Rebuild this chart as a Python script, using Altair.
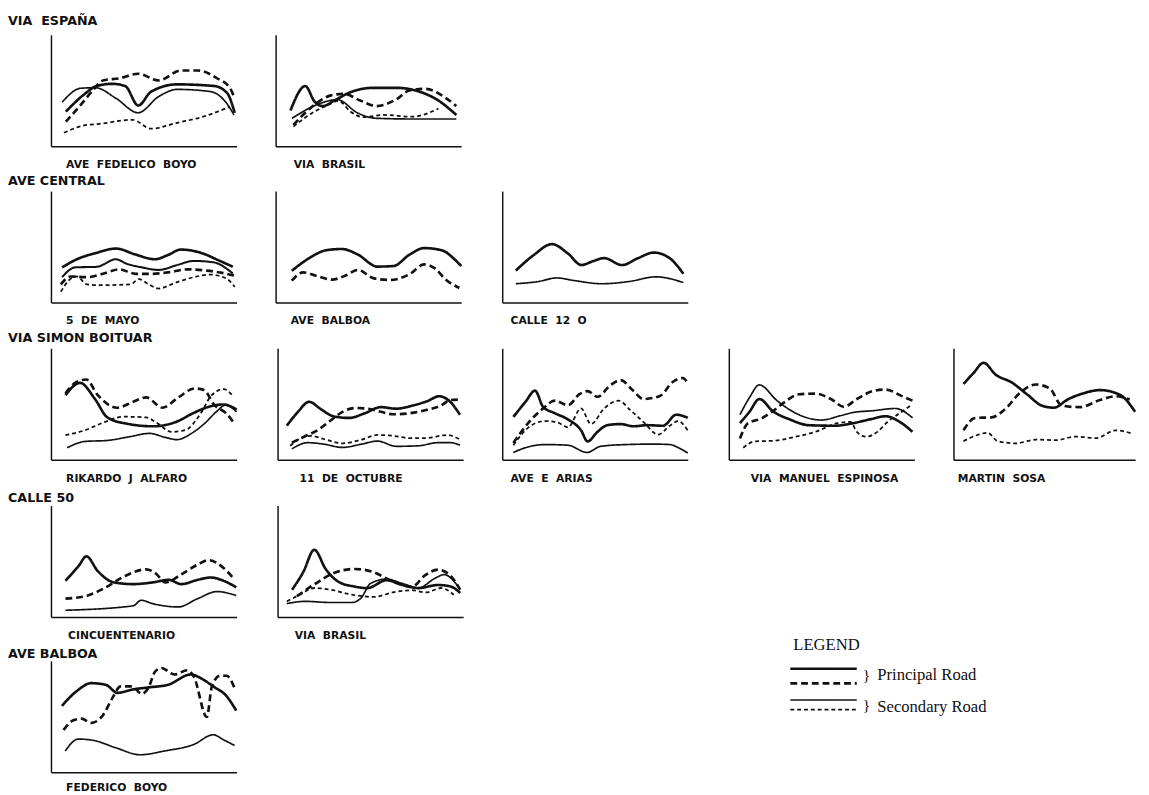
import altair as alt
import pandas as pd

# ---------------- data (x: % of panel width, y: % of panel height) ----------------
# Row 1 : VIA ESPAÑA
VE_BOYO_P1 = [(8,31),(17.5,46),(24.6,54),(33,56),(40,54),(47,36.5),(54,49),(68,55.5),(88,54),(95,47.5),(99,30)]
VE_BOYO_P2 = [(8,22),(16,37),(23,51),(28,59),(37,61),(47,65),(58,59),(70,68),(79,68),(89.5,61),(96.5,52),(99,43)]
VE_BOYO_S1 = [(6,39.5),(16,52),(24,52.5),(35,43),(47,30),(58,44.5),(68,51),(86,49),(96.5,34),(98.6,28)]
VE_BOYO_S2 = [(7,12),(17.5,18.5),(26,20),(44,23.7),(54,15.7),(68,21),(82.5,26.7),(96.5,35.6)]

VE_BRASIL_P1 = [(8,32),(16,54),(21,40),(25.4,36),(31.6,41),(40.4,48.5),(52.6,52.4),(65,52.4),(75.4,50),(87.7,41),(97.4,28)]
VE_BRASIL_P2 = [(9.6,19),(19.3,35),(29.8,45.6),(36.8,47),(45.6,41),(54.4,36),(65,42),(72,50),(80.7,51.5),(91,44),(97.4,36)]
VE_BRASIL_S1 = [(8.8,25),(22.8,37.6),(33.3,41.8),(44,30),(54.4,25),(75,24.4),(97.4,24.4)]
VE_BRASIL_S2 = [(9.6,17.6),(19.3,29.4),(28,36.8),(34,40.6),(40.4,31),(47.4,26),(58,28),(73.7,26.5),(87.7,33.8)]

# Row 2 : AVE CENTRAL
AC_MAYO_P1 = [(6,31.5),(14,38.8),(24.6,44.6),(35,48.4),(45.6,43),(56,38.8),(63,42.6),(70,47.5),(80.7,44.6),(91,37.3),(98,32)]
AC_MAYO_M1 = [(6,22.7),(13,31.5),(24.6,32),(35,38.8),(40.4,35),(49,31.5),(58,29.2),(68.4,33.8),(77,37.3),(87.7,36),(98,26)]
AC_MAYO_P2 = [(5.3,16.3),(10.5,23.3),(19.3,22.7),(28,25.7),(36.8,29.7),(45.6,25.7),(54.4,25.7),(63,27),(73.7,29.7),(84,28.6),(94.7,25.7),(99,24)]
AC_MAYO_S2 = [(5.3,9.6),(9.6,19.8),(14,23.3),(19.3,16.3),(28,15.5),(43,16.3),(47.4,21),(52.6,16.3),(58,12.5),(66.7,17.5),(77,22.7),(86,25),(94.7,21.3),(99,14)]

AC_BALBOA_P1 = [(8.7,28.4),(18.3,40),(27,46.8),(35.7,48),(44.3,43),(54.8,32.2),(63.5,32.7),(72.2,43),(80,48.8),(89.6,46.8),(96.5,38.6),(100,32.7)]
AC_BALBOA_P2 = [(8.7,19.6),(14.8,27),(21.7,24),(30.4,20.5),(37.4,24),(44.3,29.2),(53,21.6),(61.7,20.2),(72.2,25.4),(80,34.2),(86,30.4),(91.3,21),(99,13)]

AC_12O_P1 = [(7.3,28.6),(17,42.6),(26.8,52.4),(35.4,44),(42.7,33.6),(48.8,37),(54.9,39.8),(64.6,33.6),(73.2,39.8),(81.7,44.8),(90.2,39.8),(97.6,25.8)]
AC_12O_S1 = [(7.3,16.8),(19.5,18.8),(29.3,22),(39,19.6),(53.7,16.8),(68.3,18.8),(82.9,23),(97.6,17.9)]

# Row 3 : VIA SIMON BOITUAR
SB_ALFARO_P1 = [(7.8,58),(15.7,69),(23.5,55),(30.4,38),(41,32.3),(55,30),(67,33.7),(77.4,42.4),(86,48),(93,49.6),(100,45)]
SB_ALFARO_P2 = [(7.8,59.7),(13,69),(19,72),(25.2,58),(35.7,46.7),(44.3,52),(51.3,56),(60,46.7),(68.7,56),(77.4,64),(82.6,62.5),(87.8,49.6),(94.8,41),(98.3,33.7)]
SB_ALFARO_S1 = [(8.7,10.7),(18.3,16.4),(30.4,17.3),(42.6,20.7),(53,23.6),(61.7,20),(67.8,18),(75.7,23.6),(82.6,32.3),(89.6,43.8),(94,49),(97.4,46.7),(100,43)]
SB_ALFARO_S2 = [(7.8,22),(18.3,26.5),(28.7,33.7),(39,38.6),(51.3,38),(56.5,33.7),(65.2,25),(72.2,26.5),(81,42.4),(86,56.8),(93,63.4),(98.3,56.8)]

SB_OCT_P1 = [(5,30.6),(11,43),(17,52),(23,45.8),(30,39),(38.5,37.5),(47,41.7),(55.6,47.2),(64,45.8),(72.6,48.6),(81,52.8),(87,57),(93,52),(98.3,40.3)]
SB_OCT_P2 = [(7.7,15.3),(14.5,20.8),(21.4,26.4),(28.2,34.7),(35,43),(42,46.4),(48.7,45.8),(55.6,43),(62.4,40.8),(71,41.7),(79.5,44.4),(88,48.6),(93.2,53.6),(99,54)]
SB_OCT_S1 = [(7.7,9.7),(16.2,15.3),(24.8,14),(35,11),(45.3,14),(53.8,16.7),(64,12),(76,12.5),(86.3,15.3),(93.2,15.3),(98.3,13)]
SB_OCT_S2 = [(6.8,12.5),(12.8,19.4),(18,21.4),(24.8,18.6),(35,14.7),(45.3,18),(53.8,22.2),(62.4,21.4),(71,19.4),(79.5,19.4),(91.5,22.2),(98.3,18)]

SB_ARIAS_P1 = [(6,38.4),(12.4,51.7),(17.7,62),(22,47.5),(28.3,41.8),(35.4,36.2),(42.5,26.3),(46,16.4),(51.3,25),(56.6,31),(63.7,32),(70.8,30),(78,31),(86.7,30.5),(93.8,40.4),(100,37.6)]
SB_ARIAS_P2 = [(6,15),(14.2,33.3),(22,46),(28.3,53),(35.4,49),(41.6,58.8),(46,61.6),(51.3,56.5),(58.4,67),(63.7,71.5),(70.8,61.6),(76,54.5),(85,57.3),(92,70),(97.3,73.4),(100,68.6)]
SB_ARIAS_S1 = [(6,6.5),(12.4,10.7),(23,13.6),(35.4,13),(45.7,6.5),(53,12),(67,13.6),(81.4,14),(90.3,13.6),(95.6,10.2),(100,6)]
SB_ARIAS_S2 = [(6,13),(14.2,29),(23,34.7),(30,33.3),(35.4,29),(42.5,46),(47.8,32),(54.9,46),(62.8,53),(69,44.6),(76,34),(84,22.6),(90.3,30.5),(94.7,34.7),(100,26.3)]

SB_ESPINOSA_P1 = [(6,32.8),(11.2,43.2),(16.4,54.5),(24,43.2),(32.8,36.2),(43,31),(57,30.5),(67,32.8),(76,36.2),(84.5,39),(91.4,34.7),(99,25)]
SB_ESPINOSA_P2 = [(6,19),(10.3,32.8),(17.2,36.7),(24,44),(29.3,50.8),(38,58.8),(46.6,59.3),(55,54.5),(62,47.5),(69,54.5),(77.6,61.6),(84.5,63),(93,57.3),(99,53)]
SB_ESPINOSA_S1 = [(6,40.4),(11.2,56),(16.4,67.2),(26,53),(36,41.8),(50,35.6),(60,39.5),(67,42.4),(77.6,44),(89.7,46),(99,37.6)]
SB_ESPINOSA_S2 = [(7.8,10.7),(13.8,16.4),(24,17),(36,20.6),(46.6,25),(58.6,32.8),(65.5,34),(69,25),(74,20.6),(80,25),(86,34.7),(91.4,41),(98.3,49)]

SB_SOSA_P1 = [(5.5,68),(11,77.8),(16.6,87),(23.2,76.4),(32,69.4),(40.8,58.3),(48.6,48.6),(55.2,46.7),(63,54.2),(71.7,59.7),(80.6,62.5),(91.6,58.3),(100,43)]
SB_SOSA_P2 = [(5.5,26.4),(12,37.5),(21,38),(28.7,45.8),(36.4,59.7),(45.3,67.5),(53,64),(59.6,48.6),(69.5,47.2),(80.6,53.6),(89.4,57),(97,54)]
SB_SOSA_S2 = [(5.5,16.7),(13.2,22.2),(18.8,24.2),(24.3,16.7),(34.2,14.7),(45.3,18),(56.3,17.5),(67.3,20.8),(78.4,19.4),(89.4,26.4),(98.2,23.6)]

# Row 4 : CALLE 50
C50_CINC_P1 = [(7.8,32.5),(14.8,45.6),(19.1,54.4),(25.2,41.2),(34,31),(44.3,29.5),(54.7,31),(63.4,33.3),(70.3,29.5),(79,33.3),(86,35.4),(93,32.5),(99.8,26.6)]
C50_CINC_P2 = [(7.8,16.4),(19.9,19.3),(28.6,25.7),(40.8,37.5),(51.2,42.7),(56.4,39.2),(61.6,31),(70.3,38.3),(79,47),(85,51),(93,44),(98,35.4)]
C50_CINC_S1 = [(7.8,6),(44.3,10),(48.6,15),(54.7,12),(68.6,9),(79,16.4),(89.4,22.8),(99.8,19.3)]

C50_BRASIL_P1 = [(7.8,24.4),(13.8,40.2),(19.8,60.3),(25.9,43.1),(32.8,31.6),(41.5,27.3),(48.3,25.9),(58.7,33),(67.4,28.7),(76,25.9),(86.4,28.7),(93.3,27.3),(98.4,21.6)]
C50_BRASIL_P2 = [(10.4,18.7),(20.7,30.2),(29.4,38.8),(41.5,43.1),(51.8,40.2),(62.2,31.6),(72.5,27.3),(79.4,37.3),(86.4,42.5),(93.3,36.8),(98.4,24.4)]
C50_BRASIL_S1 = [(5,12),(15,14),(28,13),(40,13),(45,17),(50,30),(58.7,34),(67.4,30),(76,26),(84.6,34.5),(89.8,38),(96.7,28.7)]
C50_BRASIL_S2 = [(5,14),(12,20),(20,26),(30,24),(40,20),(52,18),(62,22),(72,24),(80,22),(88,26),(95,20)]

# Row 5 : AVE BALBOA
AB_BOYO_P1 = [(5.9,59.7),(13.8,72.8),(21.7,80),(29.6,78.5),(35.8,71.3),(43.7,74.2),(52.5,76.2),(63,78.5),(75.3,87.8),(82.3,82.9),(87.5,77.1),(94.6,68.4),(99.8,55.4)]
AB_BOYO_P2 = [(6.8,38),(12.1,46.7),(16.5,48.1),(21.7,44.3),(27.9,51),(33.2,67),(37.5,77.1),(43.7,77.1),(48.9,70.4),(52.5,75.7),(56,90.1),(59.5,93.6),(66.5,87.8),(73.5,91.6),(77,85.8),(84,49.6),(86.7,77.1),(91.1,86.7),(94.6,86.7),(98.9,75.7)]
AB_BOYO_S1 = [(7.7,19.1),(14.7,29.8),(22.6,28.7),(34.9,22),(48,15.7),(61.2,19.1),(77,25),(87.5,33.7),(92.8,29.3),(98.9,24.1)]

ROW_TITLES = ["VIA  ESPAÑA", "AVE CENTRAL", "VIA SIMON BOITUAR", "CALLE 50", "AVE BALBOA"]
LEGEND_TITLE = "LEGEND"
LEGEND_LABELS = ["Principal Road", "Secondary Road"]
STYLES = ["P1", "P2", "M1", "S1", "S2"]

# ---------------- styling ----------------
DASH = [[1, 0], [7, 4], [1, 0], [1, 0], [4, 3]]
WIDTH = [2.7, 2.7, 2.1, 1.7, 1.8]
W, H = 190, 114
LABEL_FONT = "DejaVu Sans"
NB = "\u00a0"


def sp(text):
    return text.replace("  ", " " + NB)


def dash_enc():
    return alt.StrokeDash("style:N", scale=alt.Scale(type="ordinal", domain=STYLES, range=DASH), legend=None)


def width_enc():
    return alt.StrokeWidth("style:N", scale=alt.Scale(type="ordinal", domain=STYLES, range=WIDTH), legend=None)


def panel(series, label, lx, w=W, h=H, pad=13):
    recs = [{"style": s, "x": x, "y": y} for s, pts in series for x, y in pts]
    df = pd.DataFrame(recs)
    return alt.Chart(df).mark_line(interpolate="monotone", color="#111").encode(
        x=alt.X("x:Q", scale=alt.Scale(domain=[0, 100], nice=False, zero=False),
                axis=alt.Axis(title=sp(label), labels=False, ticks=False, grid=False,
                              domainColor="#111", domainWidth=1.5,
                              titleX=lx, titleAlign="left", titleFont=LABEL_FONT,
                              titleFontSize=11, titleFontWeight="bold", titleColor="#111",
                              titlePadding=pad)),
        y=alt.Y("y:Q", scale=alt.Scale(domain=[0, 100], nice=False, zero=False),
                axis=alt.Axis(title=None, labels=False, ticks=False, grid=False,
                              domainColor="#111", domainWidth=1.5)),
        detail="style:N",
        strokeDash=dash_enc(),
        strokeWidth=width_enc(),
    ).properties(width=w, height=h)


def row(title, panels, offset, spacing=36):
    return alt.hconcat(*panels, spacing=spacing,
                       title=alt.TitleParams(sp(title), anchor="start", dx=-44, offset=offset,
                                             font=LABEL_FONT, fontSize=13, fontWeight="bold",
                                             color="#111"))


row1 = row(ROW_TITLES[0], [
    panel([("P1", VE_BOYO_P1), ("P2", VE_BOYO_P2), ("S1", VE_BOYO_S1), ("S2", VE_BOYO_S2)], "AVE  FEDELICO  BOYO", 15),
    panel([("P1", VE_BRASIL_P1), ("P2", VE_BRASIL_P2), ("S1", VE_BRASIL_S1), ("S2", VE_BRASIL_S2)], "VIA  BRASIL", 18),
], offset=7)
row2 = row(ROW_TITLES[1], [
    panel([("P1", AC_MAYO_P1), ("M1", AC_MAYO_M1), ("P2", AC_MAYO_P2), ("S2", AC_MAYO_S2)], "5  DE  MAYO", 15),
    panel([("P1", AC_BALBOA_P1), ("P2", AC_BALBOA_P2)], "AVE  BALBOA", 15),
    panel([("P1", AC_12O_P1), ("S1", AC_12O_S1)], "CALLE  12  O", 8),
], offset=3)
row3 = row(ROW_TITLES[2], [
    panel([("P1", SB_ALFARO_P1), ("P2", SB_ALFARO_P2), ("S1", SB_ALFARO_S1), ("S2", SB_ALFARO_S2)], "RIKARDO  J  ALFARO", 15),
    panel([("P1", SB_OCT_P1), ("P2", SB_OCT_P2), ("S1", SB_OCT_S1), ("S2", SB_OCT_S2)], "11  DE  OCTUBRE", 22),
    panel([("P1", SB_ARIAS_P1), ("P2", SB_ARIAS_P2), ("S1", SB_ARIAS_S1), ("S2", SB_ARIAS_S2)], "AVE  E  ARIAS", 8),
    panel([("P1", SB_ESPINOSA_P1), ("P2", SB_ESPINOSA_P2), ("S1", SB_ESPINOSA_S1), ("S2", SB_ESPINOSA_S2)], "VIA  MANUEL  ESPINOSA", 22),
    panel([("P1", SB_SOSA_P1), ("P2", SB_SOSA_P2), ("S2", SB_SOSA_S2)], "MARTIN  SOSA", 4, w=186),
], offset=4)
row4 = row(ROW_TITLES[3], [
    panel([("P1", C50_CINC_P1), ("P2", C50_CINC_P2), ("S1", C50_CINC_S1)], "CINCUENTENARIO", 17),
    panel([("P1", C50_BRASIL_P1), ("P2", C50_BRASIL_P2), ("S1", C50_BRASIL_S1), ("S2", C50_BRASIL_S2)], "VIA  BRASIL", 17),
], offset=1)
row5 = row(ROW_TITLES[4], [
    panel([("P1", AB_BOYO_P1), ("P2", AB_BOYO_P2), ("S1", AB_BOYO_S1)], "FEDERICO  BOYO", 15, pad=10),
], offset=0)

# ---------------- legend panel ----------------
LW, LH = 250, 240
leg_lines = pd.DataFrame({"style": ["P1", "P2", "S1", "S2"],
                          "x0": [20] * 4, "x1": [88] * 4,
                          "yy": [167, 182, 199, 209]})
leg_text = pd.DataFrame({"t": LEGEND_LABELS, "x": [109, 109], "yy": [174, 206]})
leg_brace = pd.DataFrame({"t": ["}", "}"], "x": [94, 94], "yy": [174, 204]})
leg_head = pd.DataFrame({"t": [LEGEND_TITLE], "x": [23], "yy": [143]})
lx = alt.Scale(domain=[0, LW], nice=False, zero=False)
ly = alt.Scale(domain=[LH, 0], nice=False, zero=False)
SERIF = "Liberation Serif"


def ltext(df, size):
    return alt.Chart(df).mark_text(align="left", baseline="middle", font=SERIF, fontSize=size, color="#111").encode(
        x=alt.X("x:Q", scale=lx, axis=None), y=alt.Y("yy:Q", scale=ly, axis=None), text="t:N")


legend = alt.layer(
    alt.Chart(leg_lines).mark_rule(color="#111").encode(
        x=alt.X("x0:Q", scale=lx, axis=None), x2="x1:Q",
        y=alt.Y("yy:Q", scale=ly, axis=None),
        strokeDash=dash_enc(), strokeWidth=width_enc(),
    ),
    ltext(leg_text, 17),
    ltext(leg_brace, 16),
    ltext(leg_head, 17),
).properties(width=LW, height=LH)

S = 6
top_rows = alt.vconcat(row1, row2, row3, spacing=S)
bottom = alt.hconcat(alt.vconcat(row4, row5, spacing=S + 2), legend, spacing=312)
chart = alt.vconcat(top_rows, bottom, spacing=S + 3).properties(
    padding={"left": 0, "top": -2, "right": 0, "bottom": 0},
    background="white",
).configure_view(stroke=None)

chart.save("out.html", embed_options={"renderer": "svg", "actions": False})
